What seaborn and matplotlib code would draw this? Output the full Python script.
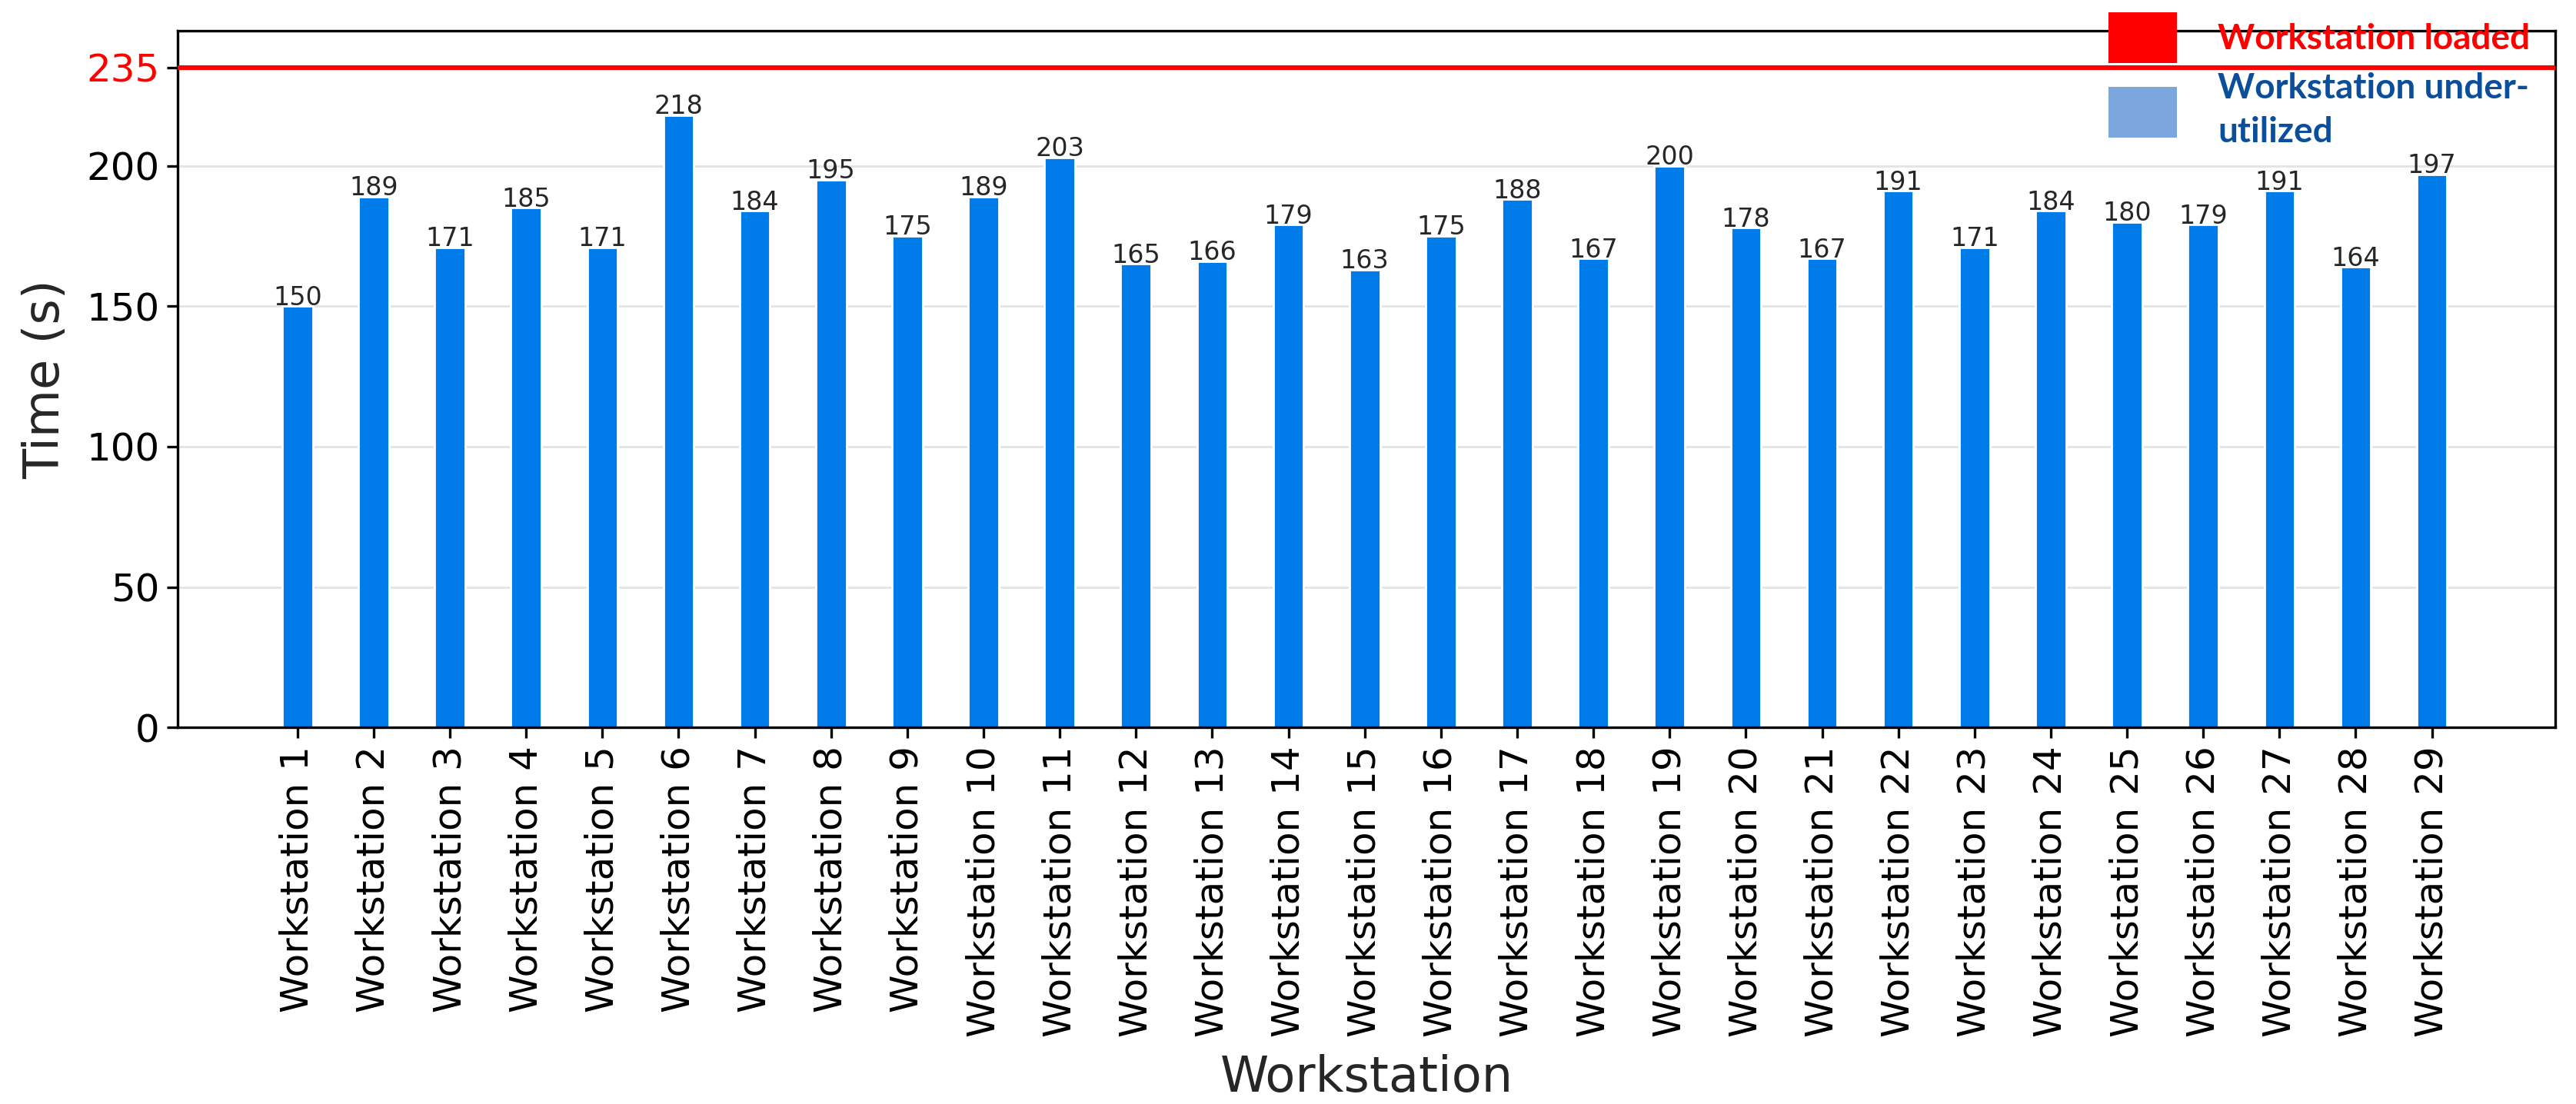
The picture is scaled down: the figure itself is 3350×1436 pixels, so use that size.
import matplotlib
matplotlib.use("Agg")
import matplotlib.pyplot as plt
from matplotlib.patches import Patch
import pandas as pd
import seaborn as sns

# Cycle time per workstation (s)
STATIONS = [f"Workstation {i}" for i in range(1, 30)]
TIMES = [150, 189, 171, 185, 171, 218, 184, 195, 175, 189,
         203, 165, 166, 179, 163, 175, 188, 167, 200, 178,
         167, 191, 171, 184, 180, 179, 191, 164, 197]
TAKT = 235
Y_TICKS = [0, 50, 100, 150, 200, TAKT]
LEGEND_LABELS = ["Workstation loaded", "Workstation under-\nutilized"]

BAR_COLOR = "#007BEA"
LOADED_COLOR = "#FF0000"
UNDER_COLOR = "#7BA7DC"
UNDER_TEXT = "#0B4F9C"

df = pd.DataFrame({"station": STATIONS, "time": TIMES})

sns.set_theme(style="white")
plt.rcParams["font.family"] = ["DejaVu Sans"]

fig, ax = plt.subplots(figsize=(16.75, 7.18), dpi=200)
fig.subplots_adjust(left=0.069, right=0.992, top=0.972, bottom=0.341)

sns.barplot(data=df, x="station", y="time", color=BAR_COLOR, width=0.4,
            saturation=1, ax=ax, zorder=2)
ax.bar_label(ax.containers[0], labels=[str(v) for v in TIMES],
             fontsize=12, padding=-2, zorder=3)

ax.axhline(TAKT, color=LOADED_COLOR, lw=2.2, zorder=4)

ax.set_xlim(-1.57, 29.62)
ax.set_ylim(0, 248)
ax.set_yticks(Y_TICKS)
ax.yaxis.grid(True, color="#e3e3e3", lw=1.0, zorder=0)
ax.set_axisbelow(True)
ax.tick_params(axis="both", labelsize=18, length=5, width=1.2,
               direction="out", left=True, bottom=True, colors="black")
ax.tick_params(axis="x", labelrotation=90)
ax.get_yticklabels()[-1].set_color(LOADED_COLOR)

ax.set_xlabel("Workstation", fontsize=23, labelpad=8)
ax.set_ylabel("Time (s)", fontsize=23, labelpad=8)

for sp in ax.spines.values():
    sp.set_visible(True)
    sp.set_color("black")
    sp.set_linewidth(1.2)

handles = [Patch(facecolor=LOADED_COLOR, edgecolor="none"),
           Patch(facecolor=UNDER_COLOR, edgecolor="none")]
leg = fig.legend(handles, LEGEND_LABELS, loc="upper left",
                 bbox_to_anchor=(2742 / 3350, 1 - 16 / 1436),
                 frameon=False, borderpad=0, borderaxespad=0,
                 handlelength=1.95, handleheight=1.85, handletextpad=1.15,
                 labelspacing=0.25, labelcolor=[LOADED_COLOR, UNDER_TEXT],
                 prop={"family": "Lato", "weight": "bold", "size": 16.5})
leg.get_texts()[1].set_linespacing(1.45)

fig.savefig("out.png", dpi=200)
